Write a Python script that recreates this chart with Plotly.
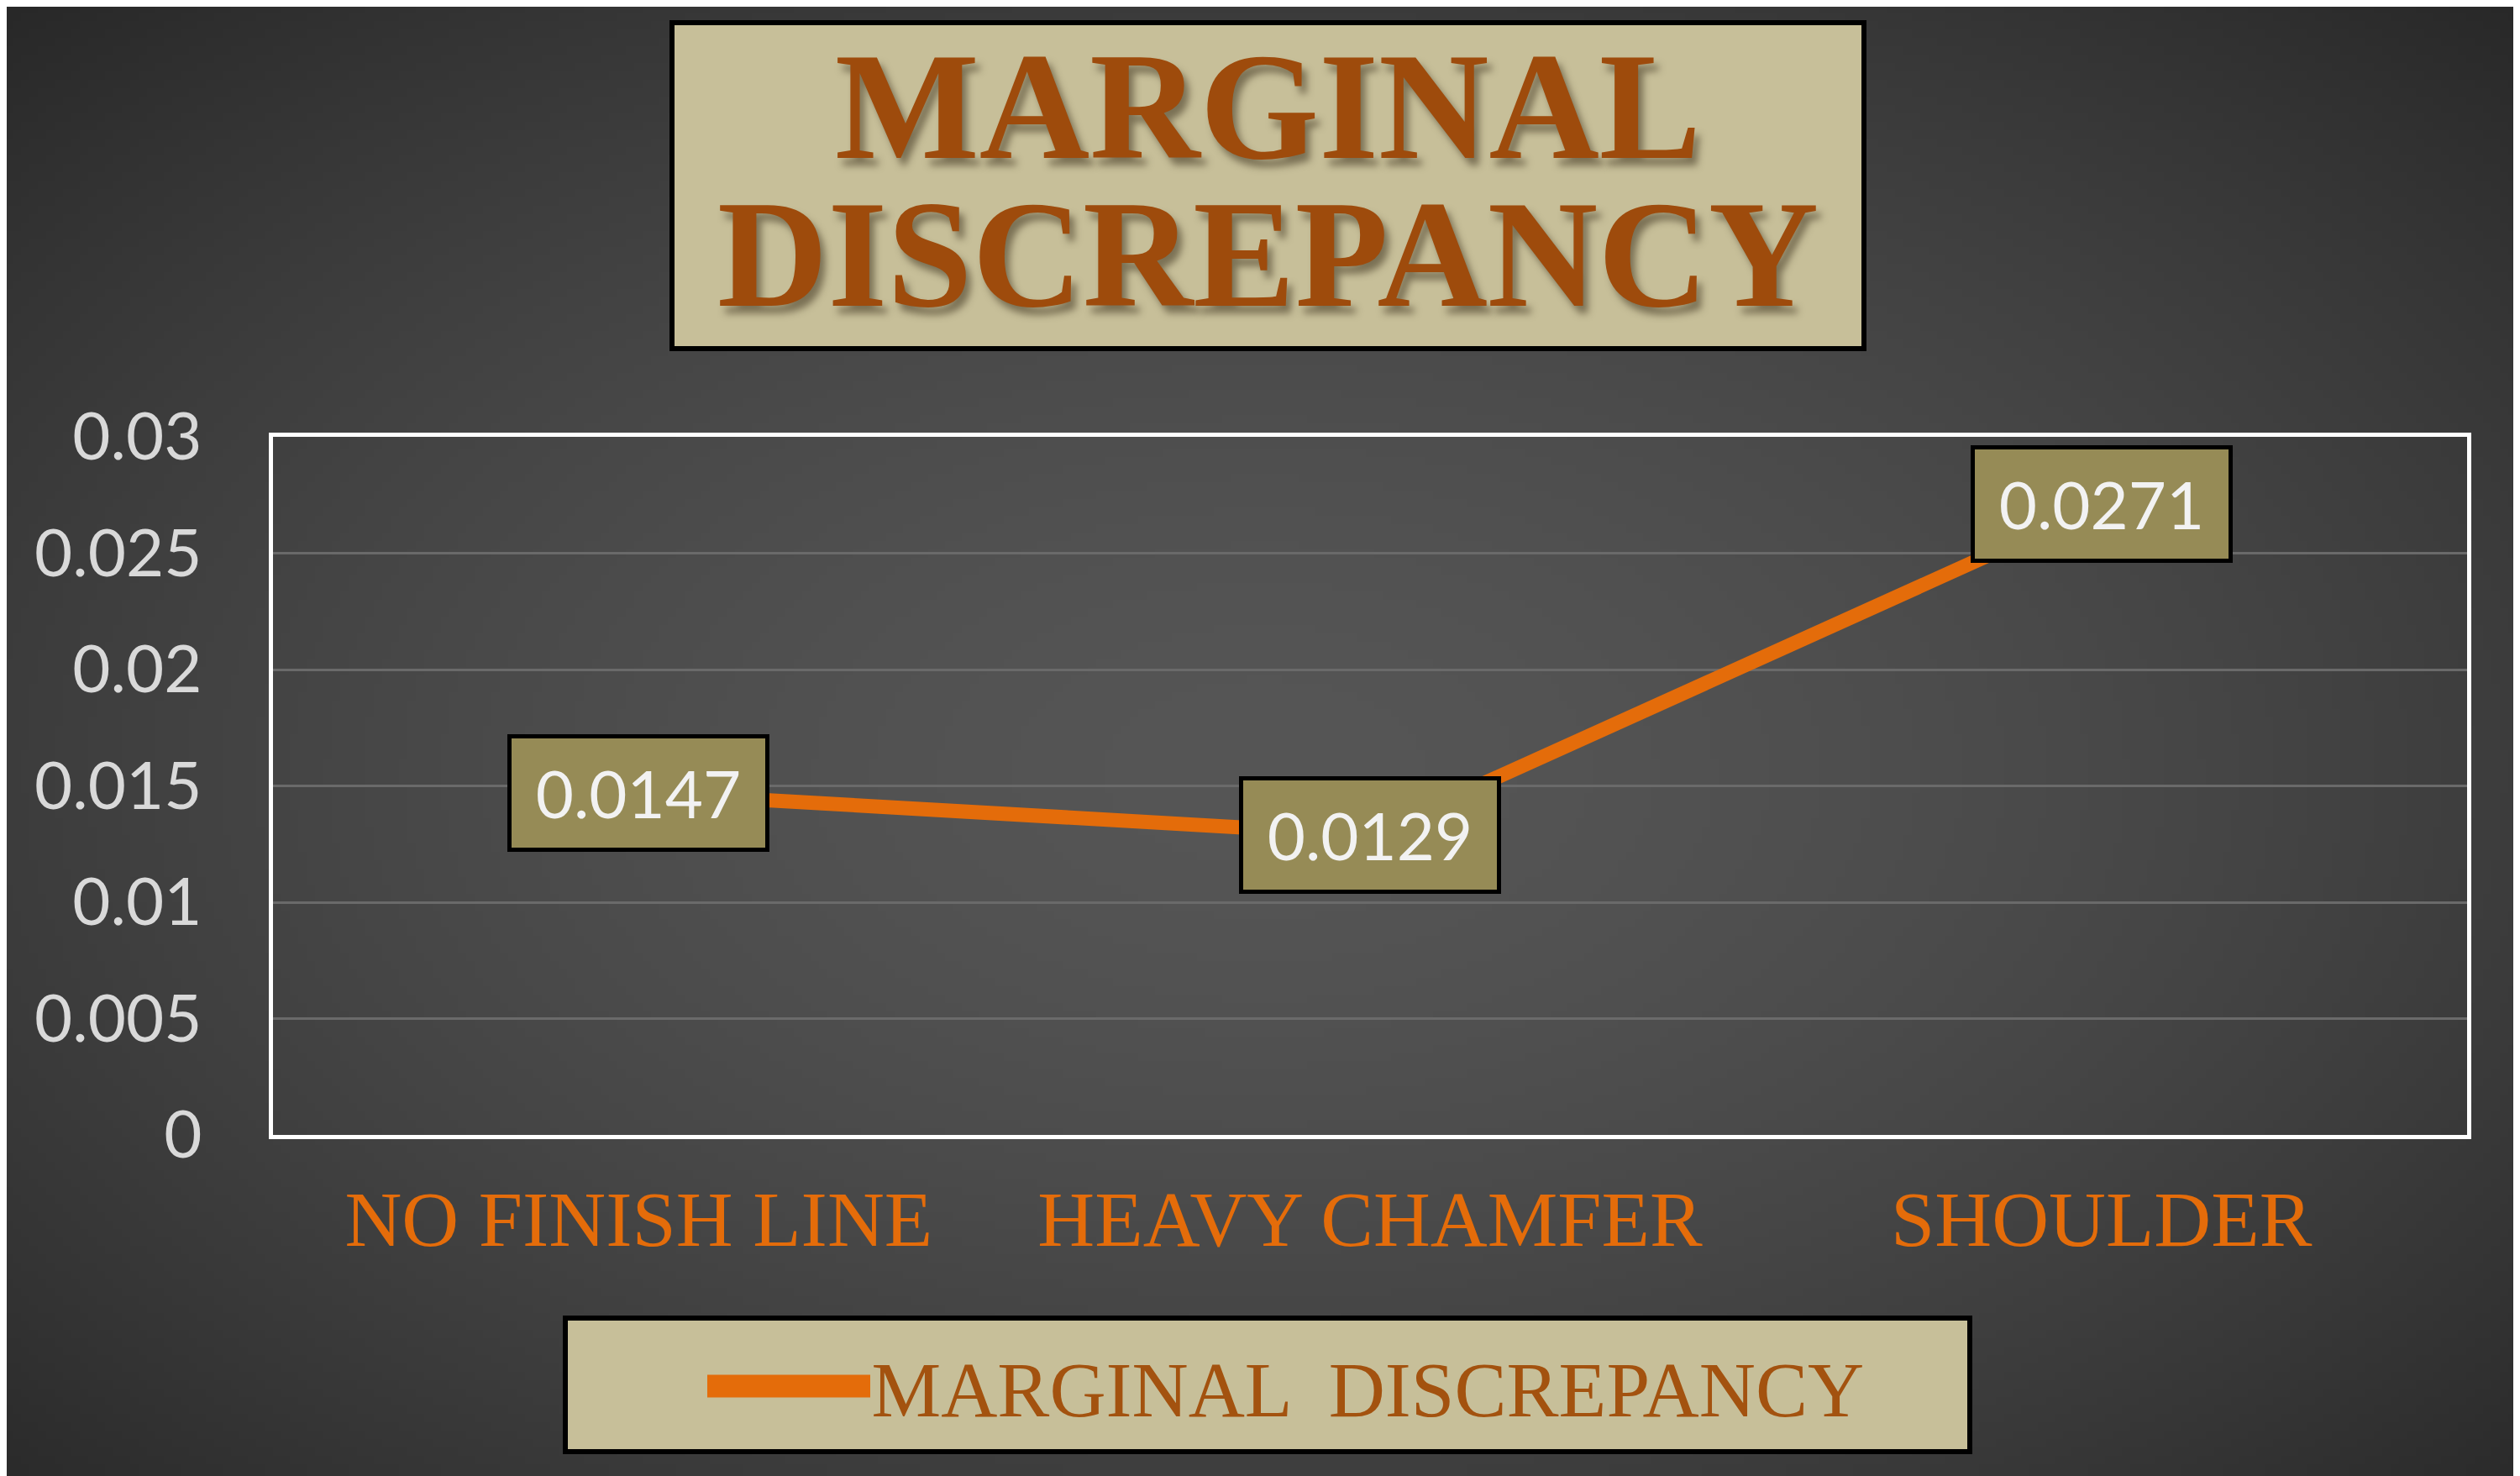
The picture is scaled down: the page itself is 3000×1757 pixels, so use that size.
import base64, struct, zlib
import numpy as np
import plotly.graph_objects as go

# ---- data ----
categories = ["NO FINISH LINE", "HEAVY CHAMFER", "SHOULDER"]
series_name = "MARGINAL  DISCREPANCY"
values = [0.0147, 0.0129, 0.0271]
value_labels = ["0.0147", "0.0129", "0.0271"]
ytick_values = [0, 0.005, 0.01, 0.015, 0.02, 0.025, 0.03]
ytick_labels = ["0", "0.005", "0.01", "0.015", "0.02", "0.025", "0.03"]
title_lines = ["MARGINAL", "DISCREPANCY"]

# ---- geometry (page pixels, reference coordinates) ----
OFF = 8  # page body margin shift
W, H = 3000, 1757
L, R, T, B = 325, 63, 520, 406
ml, mt = L - OFF, T - OFF
mr, mb = R + OFF, B + OFF
PW, PH = W - ml - mr, H - mt - mb


def px(x):
    return (x - OFF - ml) / PW


def py(y):
    return (H - mb - (y - OFF)) / PH


# ---- radial gradient background as embedded PNG ----
def gradient_png(w, h):
    yy, xx = np.mgrid[0:h, 0:w]
    r = np.sqrt(((xx - w * 0.5) / (w * 0.62)) ** 2 + ((yy - h * 0.52) / (h * 0.62)) ** 2)
    v = 86 - 36 * np.clip(r, 0, 1.2) ** 1.6
    v = np.clip(v, 0, 255).astype(np.uint8)
    img = np.stack([v, v, v], axis=-1)
    raw = b"".join(b"\x00" + img[i].tobytes() for i in range(h))

    def chunk(tag, data):
        return struct.pack(">I", len(data)) + tag + data + struct.pack(">I", zlib.crc32(tag + data) & 0xFFFFFFFF)

    png = b"\x89PNG\r\n\x1a\n" + chunk(b"IHDR", struct.pack(">IIBBBBB", w, h, 8, 2, 0, 0, 0)) \
        + chunk(b"IDAT", zlib.compress(raw, 9)) + chunk(b"IEND", b"")
    return "data:image/png;base64," + base64.b64encode(png).decode()


ORANGE = "#E46C0A"
BROWN = "#9E4B0C"
KHAKI = "#C7BF99"
LABEL_BG = "#968B56"

fig = go.Figure()
fig.add_trace(go.Scatter(
    x=categories, y=values, mode="lines", name=series_name,
    line=dict(color=ORANGE, width=17),
))

annotations = []
for c, v, t in zip(categories, values, value_labels):
    annotations.append(dict(
        x=c, y=v, xref="x", yref="y", text=t, showarrow=False,
        font=dict(family="Lato, Open Sans, sans-serif", size=78, color="#F2F2F2"),
        bgcolor=LABEL_BG, bordercolor="#000000", borderwidth=5,
        width=300, height=128, xanchor="center", yanchor="middle",
    ))

# one two-line title; base size sets the line spacing, spans set the glyph size
title_text = "<br>".join("<b><span style='font-size:182px'>" + s + "</span></b>" for s in title_lines)
annotations.append(dict(
    x=px(1509), y=py(214), xref="paper", yref="paper", text=title_text,
    showarrow=False, xanchor="center", yanchor="middle",
    font=dict(family="Liberation Serif, DejaVu Serif, serif", size=135, color=BROWN,
              shadow="6px 9px 8px rgba(60,50,30,0.55)"),
))

shapes = [
    dict(type="rect", xref="paper", yref="paper",
         x0=px(800), x1=px(2219), y0=py(415), y1=py(27),
         fillcolor=KHAKI, line=dict(color="#000000", width=6), layer="above"),
    dict(type="rect", xref="paper", yref="paper",
         x0=px(673), x1=px(2345), y0=py(1728), y1=py(1569),
         fillcolor=KHAKI, line=dict(color="#000000", width=6), layer="above"),
    # long legend key line drawn behind the legend's own short key
    dict(type="line", xref="paper", yref="paper",
         x0=px(842), x1=px(1036), y0=py(1650), y1=py(1650),
         line=dict(color=ORANGE, width=27), layer="above"),
]

fig.update_layout(
    width=W, height=H,
    margin=dict(l=ml, r=mr, t=mt, b=mb),
    paper_bgcolor="#3c3c3c",
    plot_bgcolor="rgba(0,0,0,0)",
    images=[dict(source=gradient_png(300, 176), xref="paper", yref="paper",
                 x=px(0), y=py(0), sizex=W / PW, sizey=H / PH,
                 sizing="stretch", layer="below", xanchor="left", yanchor="top")],
    shapes=shapes,
    annotations=annotations,
    showlegend=True,
    legend=dict(
        x=px(1611), y=py(1650), xref="paper", yref="paper",
        xanchor="center", yanchor="middle", orientation="h",
        bgcolor="rgba(0,0,0,0)", borderwidth=0,
        font=dict(family="Liberation Serif, DejaVu Serif, serif", size=93, color="#A3520F"),
    ),
    xaxis=dict(
        type="category", range=[-0.5, 2.5],
        showgrid=False, zeroline=False,
        showline=True, mirror=True, linecolor="#FFFFFF", linewidth=5,
        ticks="", ticklabelstandoff=14,
        tickfont=dict(family="Liberation Serif, DejaVu Serif, serif", size=94, color=ORANGE),
    ),
    yaxis=dict(
        range=[0, 0.03], tickvals=ytick_values, ticktext=ytick_labels,
        showgrid=True, gridcolor="#6A6A6A", gridwidth=3,
        zeroline=False,
        showline=True, mirror=True, linecolor="#FFFFFF", linewidth=5,
        ticks="", ticklabelstandoff=64,
        tickfont=dict(family="Lato, Open Sans, sans-serif", size=78, color="#D9D9D9"),
    ),
)

fig.write_html("out.html")
